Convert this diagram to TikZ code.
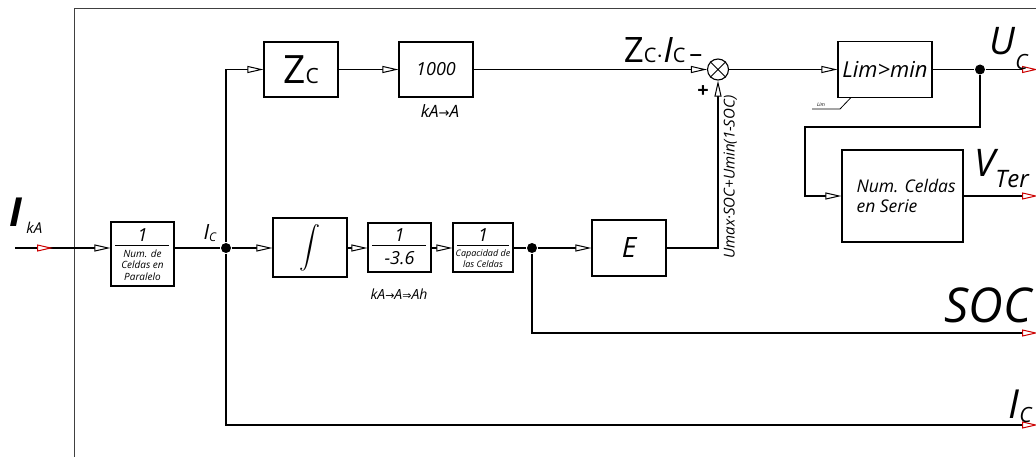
\documentclass[tikz,border=0pt]{standalone}
\usepackage{fontspec}
\setmainfont{Open Sans}
\newfontfamily\arrfont{DejaVu Sans}
\usetikzlibrary{arrows.meta,calc}
\newcommand{\fs}[1]{\fontsize{#1}{#1}\selectfont}
\begin{document}
\begin{tikzpicture}[x=1pt,y=-1pt,line width=1.1pt,
  box/.style={draw, line width=1.1pt, inner sep=0pt},
  tip/.style={-{Triangle[length=16pt,width=7pt,fill=white,line width=1pt]}},
  rtip/.style={-{Triangle[length=16pt,width=7pt,fill=white,color=red!80!black,line width=1pt]}},
  jdot/.style={circle, fill=black, inner sep=0pt, minimum size=10pt},
  lbl/.style={inner sep=0pt, font=\itshape},
  frac/.style={line width=1pt}]
\useasboundingbox (0,0) rectangle (1036,457);
\clip (0,0) rectangle (1036,457);
% frame
\draw[line width=1pt, black!75] (74,457) -- (74,9) -- (1040,9);

% blocks
\node[box, minimum width=63pt, minimum height=64pt] (par) at (142.5,254) {};
\node[box, minimum width=74pt, minimum height=59pt] (int) at (310,247.5) {\scalebox{2.1}{$\displaystyle\int$}};
\node[box, minimum width=63pt, minimum height=49pt] (k36) at (399.5,247.5) {};
\node[box, minimum width=60pt, minimum height=49pt] (cap) at (483,247.5) {};
\node[box, minimum width=74pt, minimum height=56pt] (e) at (629,248) {\itshape\fs{28}E};
\node[box, minimum width=74pt, minimum height=55pt] (zc) at (301,69.5) {\fs{39}Z\fs{21}C};
\node[box, minimum width=74pt, minimum height=55pt] (k1000) at (436,69.5) {\itshape\fs{18}1000};
\node[box, minimum width=94pt, minimum height=56pt] (lim) at (885,69.5) {\itshape\fs{22}Lim>min};
\node[box, minimum width=121pt, minimum height=92pt] (ns) at (902.5,196) {};
\node[lbl, anchor=west, align=left, font=\itshape\fs{17.5}] (nst) at (856,196) {Num. Celdas\\[2pt]en Serie};
\node[circle, draw, line width=1.1pt, minimum size=21pt, inner sep=0pt] (sum) at (718,69.5) {};
\draw[line width=1pt] (sum.north west) -- (sum.south east) (sum.north east) -- (sum.south west);

% fraction contents
\node[lbl, anchor=base, font=\itshape\fs{18}] (pn) at (142.5,241) {1};
\draw[frac] (115,245) -- (169,245);
\node[lbl, anchor=north, align=center, font=\itshape\fontsize{10}{11.8}\selectfont] (pd) at (142.5,249) {Num. de\\Celdas en\\Paralelo};
\node[lbl, anchor=base, font=\itshape\fs{18}] (kn) at (399.5,242) {1};
\draw[frac] (372,245) -- (426,245);
\node[lbl, anchor=base, font=\itshape\fs{18}] (kd) at (399.5,265) {-3.6};
\node[lbl, anchor=base, font=\itshape\fs{18}] (cn) at (483,242) {1};
\draw[frac] (457,245) -- (509,245);
\node[lbl, anchor=north, align=center, font=\itshape\fontsize{9}{11}\selectfont] (cd) at (483,249) {Capacidad de\\las Celdas};

% junctions and coordinates
\node[jdot] (d1) at (226,248) {};
\node[jdot] (d2) at (532,248) {};
\node[jdot] (d3) at (980,69.5) {};
\coordinate (in) at (15,248);
\coordinate (ra) at (37,248);
\coordinate (rb) at (53,248);
\coordinate (bend) at (805,127);
\coordinate (ucout) at (1038,69.5);
\coordinate (vout) at (1038,196);
\coordinate (socout) at (1038,333);
\coordinate (icout) at (1038,425);

% connectors
\draw[tip] (in) -- (in -| par.west);
\draw[rtip] (ra) -- (rb);
\draw (in -| par.east) -- (d1);
\draw[tip] (d1) -- (d1 -| int.west);
\draw[tip] (d1 -| int.east) -- (d1 -| k36.west);
\draw[tip] (d1 -| k36.east) -- (d1 -| cap.west);
\draw (d1 -| cap.east) -- (d2);
\draw[tip] (d2) -- (e.west);
\draw[tip] (e.east) -| (sum.south);
\draw[tip] (d1) |- (zc.west);
\draw[tip] (zc.east) -- (k1000.west);
\draw[tip] (k1000.east) -- (sum.west);
\draw[tip] (sum.east) -- (lim.west);
\draw (lim.east) -- (d3);
\draw[rtip] (d3) -- (ucout);
\draw[tip] (d3) |- (bend) |- (ns.west);
\draw[rtip] (ns.east) -- (vout);
\draw[rtip] (d2) |- (socout);
\draw[rtip] (d1) |- (icout);

% small Lim mark
\node[lbl, font=\itshape\fs{5}] (limlbl) at (821,105) {Lim};
\draw[line width=0.8pt] (812,109) -- (840,109) -- (851,97.5);

% labels
\node[lbl, anchor=base west] (ika) at (9,226) {\fs{40}\bfseries\itshape I\hspace{4pt}\raisebox{-7pt}{\mdseries\fs{15}kA}};
\node[lbl, anchor=base west] (icl) at (203,240) {\fs{21}I\raisebox{-2pt}{\fs{12}C}};
\node[lbl, anchor=base east] (zil) at (703,63) {\upshape\fs{35}Z\fs{20}C\fs{28}$\cdot$\itshape\fs{35}I\upshape\fs{20}C\hspace{4pt}\fs{26}–};
\node[lbl, anchor=base, font=\bfseries\fs{20}] (plus) at (703,98) {+};
\node[lbl, anchor=base, font=\itshape\fs{17}] (kaa) at (440,118) {kA{\arrfont\fs{13}→}A};
\node[lbl, anchor=base, font=\itshape\fs{14}] (kaah) at (399,299) {kA{\arrfont\fs{11}→}A{\arrfont\fs{11}⇒}Ah};
\node[lbl, anchor=north, rotate=90, font=\itshape\fs{15}] (umx) at (723,177) {Umax·SOC+Umin(1-SOC)};
\node[lbl, anchor=base west] (ucl) at (989,55) {\itshape\fs{38}U\raisebox{-15pt}{\fs{21}C}};
\node[lbl, anchor=base west] (vtl) at (974,177) {\itshape\fs{38}V\raisebox{-11pt}{\fs{24}Ter}};
\node[lbl, anchor=base east] (socl) at (1032,322) {\itshape\fs{48}SOC};
\node[lbl, anchor=base west] (icol) at (1008,418) {\itshape\fs{40}I\raisebox{-4pt}{\fs{21}C}};
\end{tikzpicture}
\end{document}
